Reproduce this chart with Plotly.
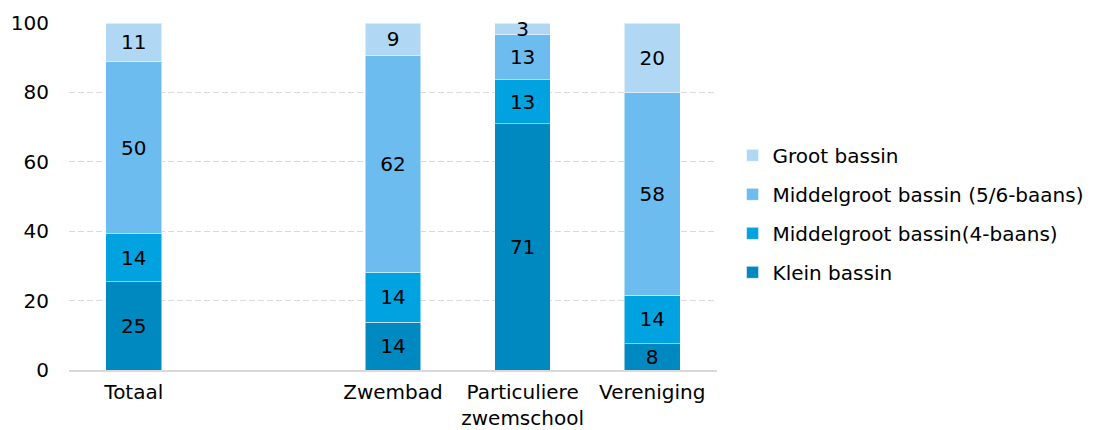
import plotly.graph_objects as go

categories = ["Totaal", " ", "Zwembad", "Particuliere<br>zwemschool", "Vereniging"]
klein = [25.4, None, 13.8, 70.9, 7.6]
middel4 = [13.8, None, 14.4, 12.7, 14.0]
middel56 = [49.6, None, 62.4, 13.0, 58.3]
groot = [11.2, None, 9.4, 3.4, 20.1]

series = [
    ("Klein bassin", klein, "#0089c0"),
    ("Middelgroot bassin(4-baans)", middel4, "#00a3e0"),
    ("Middelgroot bassin (5/6-baans)", middel56, "#6cbcf0"),
    ("Groot bassin", groot, "#b0d8f5"),
]

FONT = "DejaVu Sans"
FS_NUM = 20
FS_TXT = 20
fig = go.Figure()
for i, (name, vals, col) in enumerate(series):
    fig.add_trace(go.Bar(
        x=categories, y=vals, name=name,
        marker=dict(color=col, line=dict(color="rgba(255,255,255,0.5)", width=1)),
        texttemplate="%{y:.0f}", textposition="inside", insidetextanchor="middle",
        textangle=0,
        textfont=dict(family=FONT, size=FS_NUM, color="black"),
        constraintext="none", cliponaxis=False,
        legendgroup=f"g{i}", legendrank=100 - i,
    ))

# page body has an 8px margin; compensate so plot area lands at page x 69..717, y 23..370
fig.update_layout(
    width=1091, height=430,
    barmode="stack", bargap=0.57,
    plot_bgcolor="white", paper_bgcolor="white",
    margin=dict(l=61, r=382, t=15, b=68, autoexpand=False),
    font=dict(family=FONT, size=FS_TXT, color="black"),
    uniformtext=dict(minsize=FS_NUM, mode="show"),
    legend=dict(
        x=1.024, y=0.45, xanchor="left", yanchor="middle",
        traceorder="grouped", tracegroupgap=10,
        font=dict(family=FONT, size=FS_TXT, color="black"),
        itemwidth=30,
    ),
    showlegend=True,
)
fig.update_xaxes(
    showgrid=False, showline=True, linecolor="#d9d9d9", linewidth=2,
    ticks="", automargin=False, ticklabelstandoff=3,
    tickfont=dict(family=FONT, size=20, color="black"),
)
fig.update_yaxes(
    range=[0, 100.001], tickvals=[0, 20, 40, 60, 80, 100],
    showgrid=True, gridcolor="#d9d9d9",
    griddash="6px,3px", gridwidth=1, zeroline=False, showline=False,
    ticks="", ticklabelstandoff=19, automargin=False,
    tickfont=dict(family=FONT, size=FS_NUM, color="black"),
)
fig.write_html("out.html")
